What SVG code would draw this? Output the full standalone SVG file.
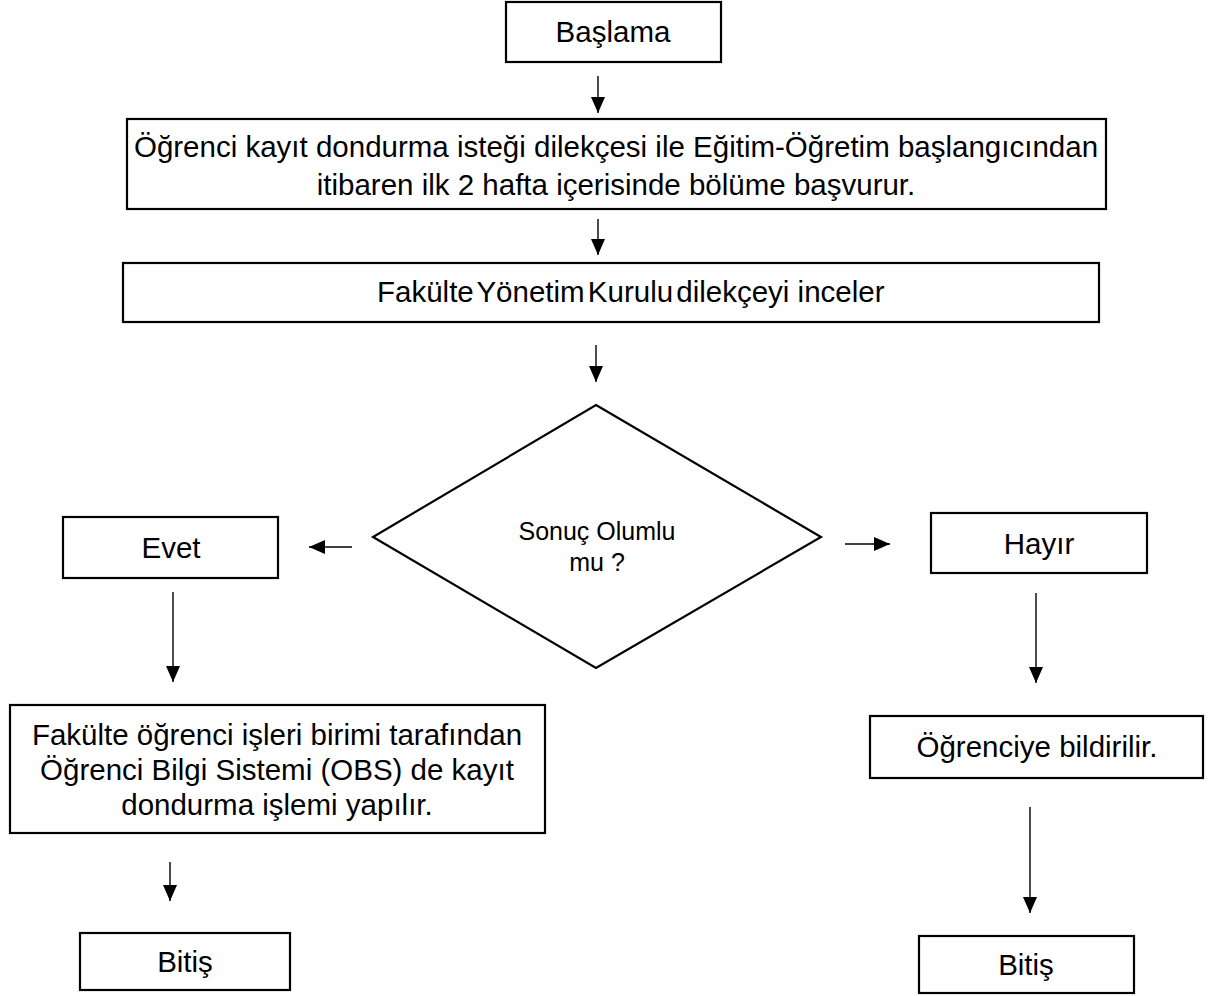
<svg xmlns="http://www.w3.org/2000/svg" width="1209" height="996" viewBox="0 0 1209 996">
<defs>
<style>
.box{fill:#fff;stroke:#000;stroke-width:2.2}
.t{font-family:"Liberation Sans",Arial,sans-serif;font-size:29.5px;fill:#000;text-anchor:middle}
.ts{font-family:"Liberation Sans",Arial,sans-serif;font-size:25px;fill:#000;text-anchor:middle}
.c{stroke:#000;stroke-width:1.4;fill:none;marker-end:url(#ah)}
</style>
<marker id="ah" markerUnits="userSpaceOnUse" markerWidth="17" markerHeight="15" refX="16" refY="7" orient="auto">
<path d="M0,0 L16,7 L0,14 Z" fill="#000"/>
</marker>
</defs>
<rect width="1209" height="996" fill="#fff"/>
<g id="connectors">
<line class="c" x1="598" y1="76" x2="598" y2="113"/>
<line class="c" x1="598" y1="219" x2="598" y2="255"/>
<line class="c" x1="596" y1="345" x2="596" y2="382"/>
<line class="c" x1="352" y1="547" x2="309" y2="547"/>
<line class="c" x1="845" y1="544" x2="890" y2="544"/>
<line class="c" x1="173" y1="592" x2="173" y2="682"/>
<line class="c" x1="1036" y1="593" x2="1036" y2="683"/>
<line class="c" x1="170" y1="862" x2="170" y2="901"/>
<line class="c" x1="1030" y1="807" x2="1030" y2="913"/>
</g>
<g id="start">
<rect class="box" x="506" y="2" width="215" height="60"/>
<text class="t" x="613" y="42">Başlama</text>
</g>
<g id="apply">
<rect class="box" x="127" y="119" width="979" height="90"/>
<text class="t" x="616" y="157">Öğrenci kayıt dondurma isteği dilekçesi ile Eğitim-Öğretim başlangıcından</text>
<text class="t" x="616" y="195">itibaren ilk 2 hafta içerisinde bölüme başvurur.</text>
</g>
<g id="review">
<rect class="box" x="123" y="263" width="976" height="59"/>
<text class="t" x="377" y="302" style="text-anchor:start"><tspan word-spacing="-5">Fakülte Yönetim Kurulu dilekçeyi</tspan> inceler</text>
</g>
<g id="decision">
<polygon class="box" points="596,405 821,537 596,668 373,537"/>
<text class="ts" x="597" y="540">Sonuç Olumlu</text>
<text class="ts" x="597" y="571">mu ?</text>
</g>
<g id="yes">
<rect class="box" x="63" y="517" width="215" height="61"/>
<text class="t" x="171" y="558">Evet</text>
</g>
<g id="no">
<rect class="box" x="931" y="513" width="216" height="60"/>
<text class="t" x="1039" y="554">Hayır</text>
</g>
<g id="obs">
<rect class="box" x="10" y="705" width="535" height="128"/>
<text class="t" x="277" y="745">Fakülte öğrenci işleri birimi tarafından</text>
<text class="t" x="277" y="780">Öğrenci Bilgi Sistemi (OBS) de kayıt</text>
<text class="t" x="277" y="815">dondurma işlemi yapılır.</text>
</g>
<g id="notify">
<rect class="box" x="870" y="716" width="333" height="62"/>
<text class="t" x="1037" y="757">Öğrenciye bildirilir.</text>
</g>
<g id="end-left">
<rect class="box" x="80" y="933" width="210" height="57"/>
<text class="t" x="185" y="972">Bitiş</text>
</g>
<g id="end-right">
<rect class="box" x="919" y="936" width="215" height="57"/>
<text class="t" x="1026" y="975">Bitiş</text>
</g>
</svg>
